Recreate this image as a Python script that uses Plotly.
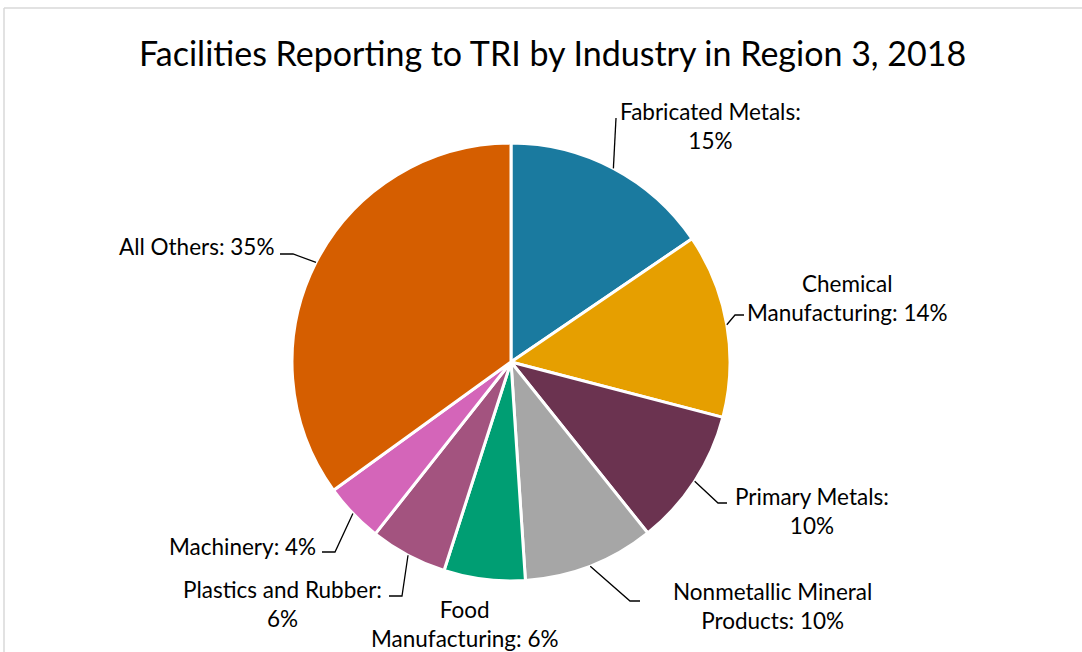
import math
import plotly.graph_objects as go

# ---- data ----
industries = ["Fabricated Metals", "Chemical Manufacturing", "Primary Metals",
              "Nonmetallic Mineral Products", "Food Manufacturing",
              "Plastics and Rubber", "Machinery", "All Others"]
shares = [15.5, 13.6, 10.2, 9.7, 6.0, 5.7, 4.4, 35.0]
shown_pct = ["15%", "14%", "10%", "10%", "6%", "6%", "4%", "35%"]
label_text = ["Fabricated Metals:<br>15%", "Chemical<br>Manufacturing: 14%",
              "Primary Metals:<br>10%", "Nonmetallic Mineral<br>Products: 10%",
              "Food<br>Manufacturing: 6%", "Plastics and Rubber:<br>6%",
              "Machinery: 4%", "All Others: 35%"]
colors = ["#1A7A9F", "#E69F00", "#6B3350", "#A6A6A6", "#009E73",
          "#A3537F", "#D465B9", "#D55E00"]

# ---- layout (pixels) ----
W, H = 1082, 652
CX, CY, R = 511, 362, 219
label_xy = [(710, 126), (847, 298), (812, 511), (772, 606), (465, 624),
            (282, 604), (242, 546), (196, 246)]
# leader: (elbow, end) or None
leaders = [((616, 118), None), ((735, 315), (744, 315)), ((718, 503), (727, 503)),
           ((630, 601), (640, 601)), None, ((402, 596), (389, 596)),
           ((335, 552), (322, 552)), ((293, 254), (280, 254))]

FONT = "Lato, 'Open Sans', sans-serif"


def px(x):
    return x / W


def py(y):
    return 1 - y / H


fig = go.Figure(go.Pie(
    labels=industries, values=shares, sort=False, direction="clockwise",
    rotation=0, textinfo="none", hoverinfo="label+percent",
    marker=dict(colors=colors, line=dict(color="white", width=3)),
    domain=dict(x=[px(CX - R), px(CX + R)], y=[py(CY + R), py(CY - R)]),
    showlegend=False,
))

annotations = []
for t, (lx, ly) in zip(label_text, label_xy):
    annotations.append(dict(x=px(lx), y=py(ly), xref="paper", yref="paper",
                            text=t, showarrow=False, xanchor="center",
                            yanchor="middle", align="center",
                            font=dict(family=FONT, size=22.5, color="#000000")))

annotations.append(dict(x=px(552), y=py(53), xref="paper", yref="paper",
                        text="Facilities Reporting to TRI by Industry in Region 3, 2018",
                        showarrow=False, xanchor="center", yanchor="middle",
                        font=dict(family=FONT, size=34, color="#000000")))

shapes = []
total = sum(shares)
cum = 0.0
for v, ld in zip(shares, leaders):
    mid = (cum + v / 2) / total * 2 * math.pi
    cum += v
    if ld is None:
        continue
    sx = CX + R * math.sin(mid)
    sy = CY - R * math.cos(mid)
    pts = [(sx, sy), ld[0]] + ([ld[1]] if ld[1] else [])
    path = "M " + " L ".join(f"{px(a):.5f},{py(b):.5f}" for a, b in pts)
    shapes.append(dict(type="path", path=path, xref="paper", yref="paper",
                       line=dict(color="#000000", width=1.3)))

# chart border (top and left)
shapes.append(dict(type="line", xref="paper", yref="paper", x0=px(4), x1=1,
                   y0=py(8), y1=py(8), line=dict(color="#D9D9D9", width=1.5)))
shapes.append(dict(type="line", xref="paper", yref="paper", x0=px(4), x1=px(4),
                   y0=py(8), y1=0, line=dict(color="#D9D9D9", width=1.5)))

fig.update_layout(width=W, height=H, margin=dict(l=0, r=0, t=0, b=0),
                  paper_bgcolor="white", plot_bgcolor="white",
                  annotations=annotations, shapes=shapes)

fig.write_html("out.html", config={"displayModeBar": False},
               post_script="document.body.style.margin='0px';"
                           "document.body.style.overflow='hidden';")
